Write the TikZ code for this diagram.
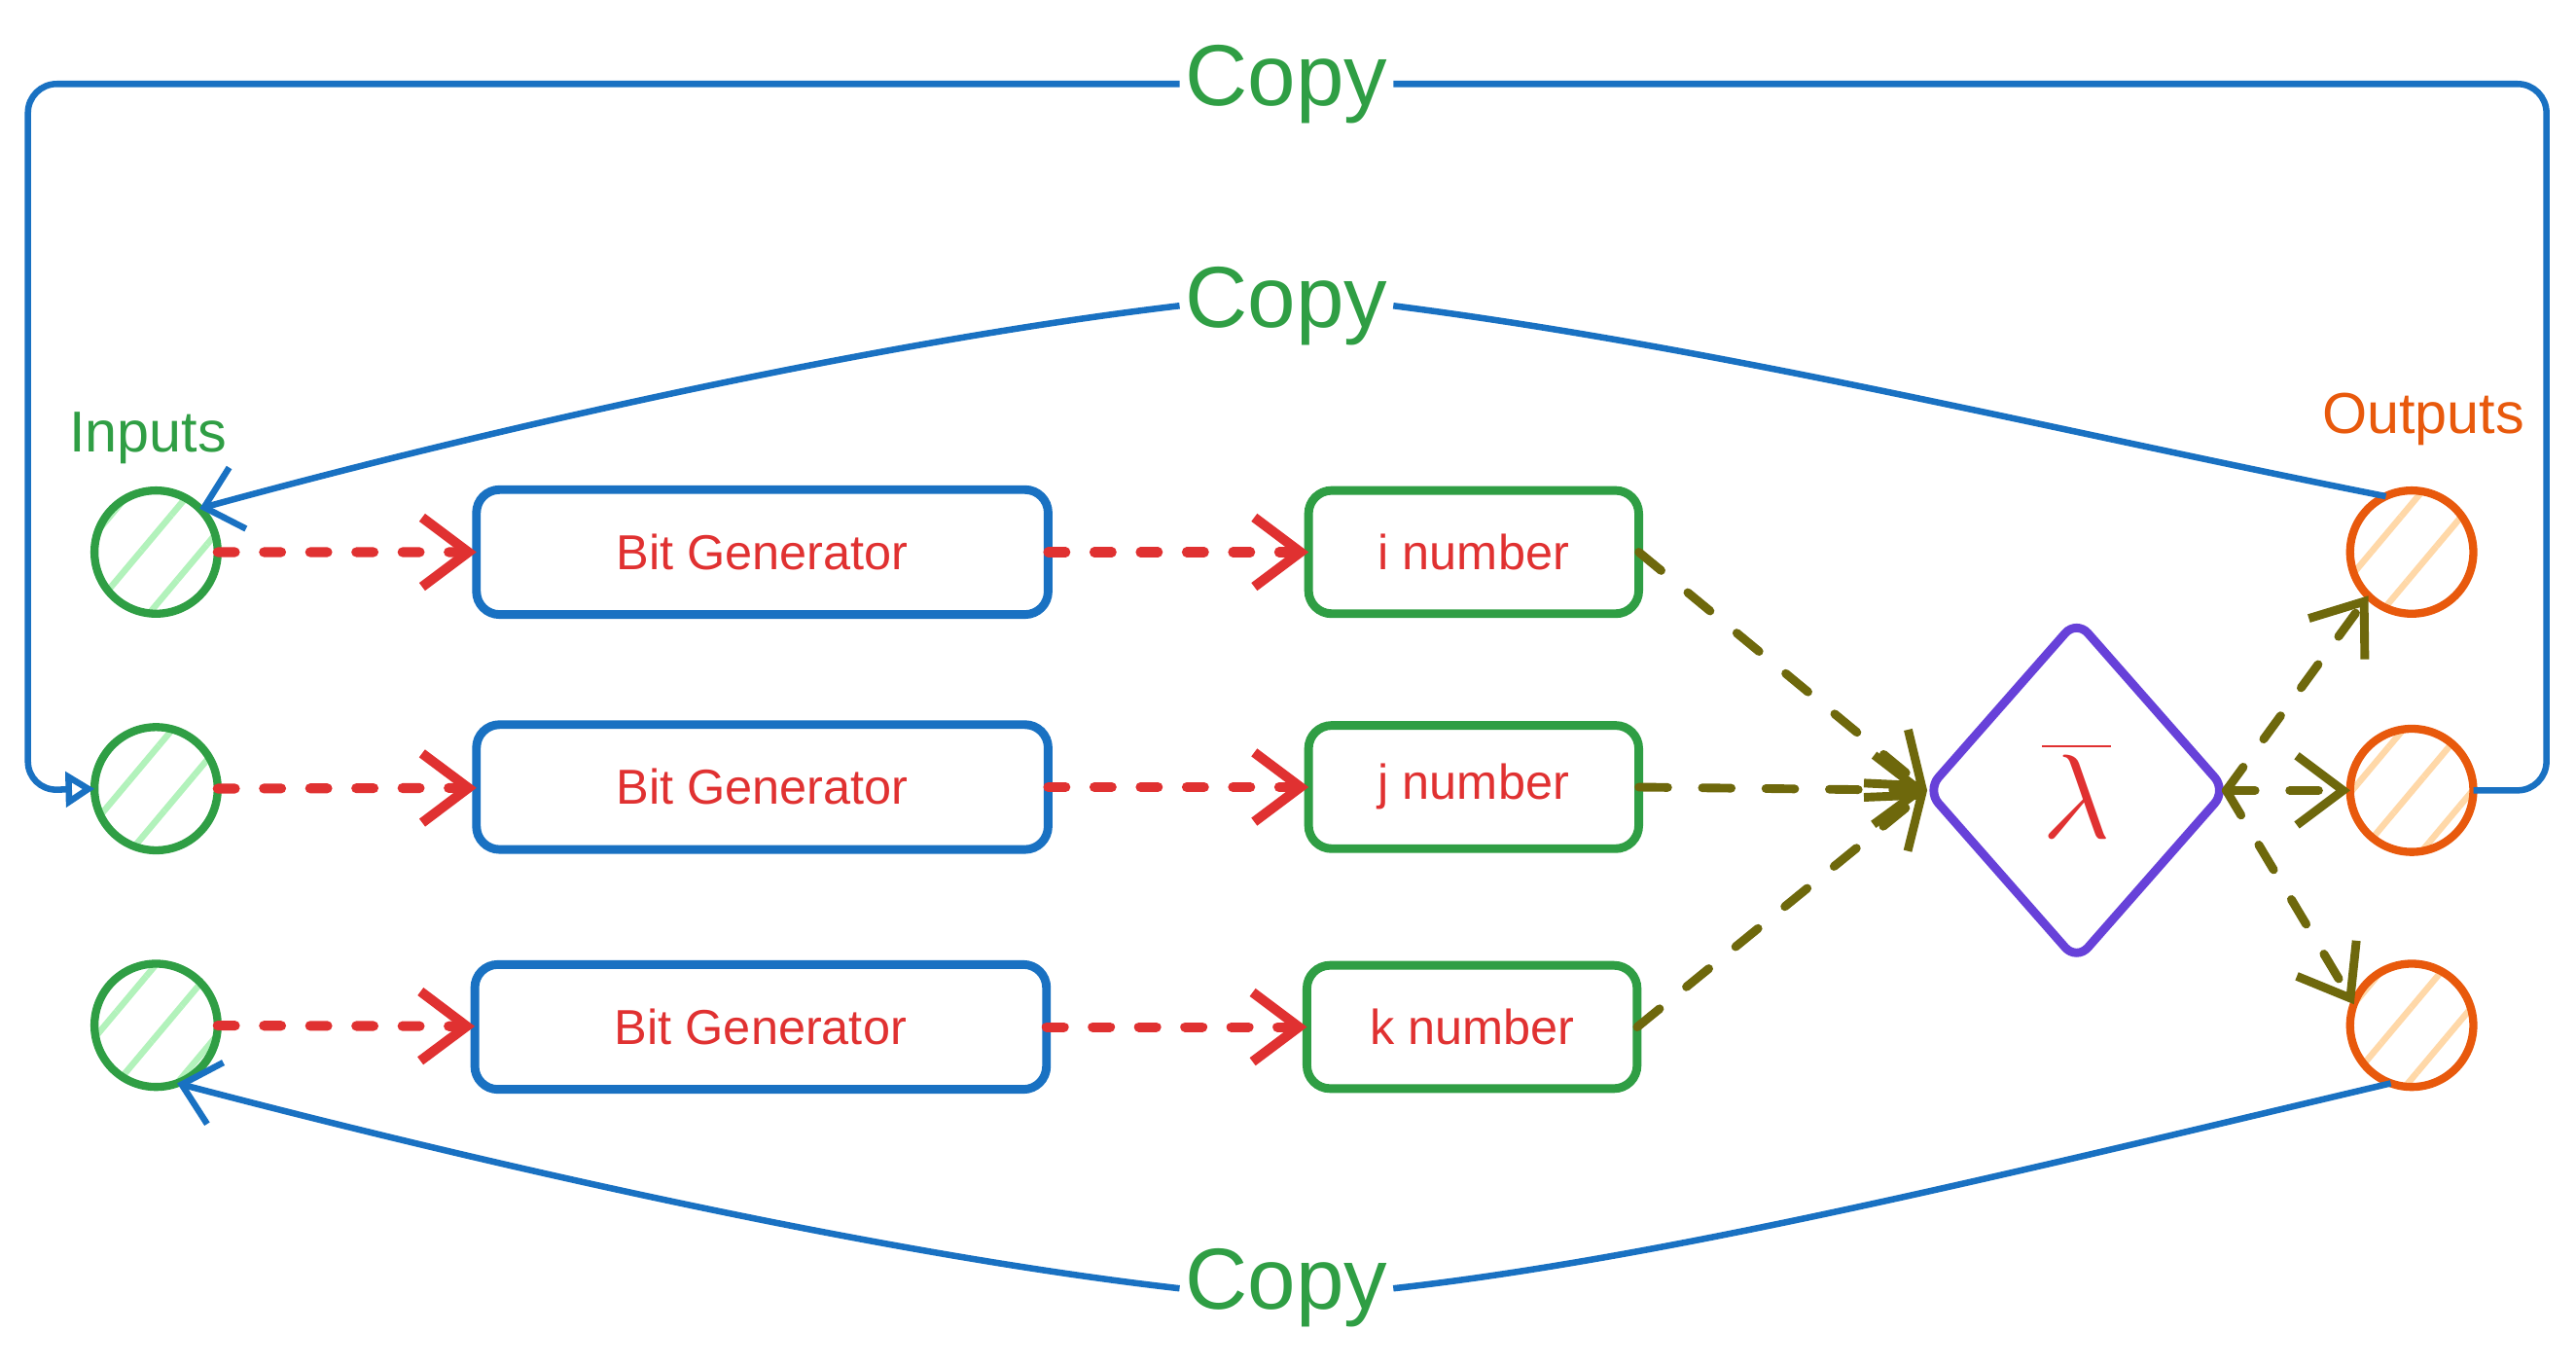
\documentclass[tikz,border=0pt]{standalone}
\usepackage{fontspec}
\setmainfont{Liberation Sans}
\usetikzlibrary{positioning,shapes.geometric,arrows.meta,patterns.meta}
\definecolor{sblue}{HTML}{1971C2}
\definecolor{sgreen}{HTML}{2F9E44}
\definecolor{sred}{HTML}{E03131}
\definecolor{sorange}{HTML}{E8590C}
\definecolor{spurple}{HTML}{6741D9}
\definecolor{drkolive}{RGB}{110,104,12}
\definecolor{lgreen}{HTML}{B2F2BB}
\definecolor{lorange}{HTML}{FFD8A8}
\newcommand{\copyfont}{\fontsize{15}{18}\selectfont}
\newcommand{\lblfont}{\fontsize{10}{12}\selectfont}
\newcommand{\boxfont}{\fontsize{8.5}{10}\selectfont}

\begin{document}
\begin{tikzpicture}[scale=0.1]
\tikzstyle{every node}+=[outer sep=0pt]
\tikzstyle{incirc}=[circle, draw=sgreen, line width=1.4pt, minimum size=0.75cm, pattern={Lines[angle=50,distance=8pt,line width=1.1pt]}, pattern color=lgreen]
\tikzstyle{outcirc}=[circle, draw=sorange, line width=1.4pt, minimum size=0.75cm, pattern={Lines[angle=50,distance=8pt,line width=1.1pt]}, pattern color=lorange]
\tikzstyle{genbox}=[rectangle, rounded corners=4pt, draw=sblue, line width=1.5pt, minimum width=3.48cm, minimum height=0.76cm, text=sred, font=\boxfont]
\tikzstyle{numbox}=[rectangle, rounded corners=4pt, draw=sgreen, line width=1.5pt, minimum width=2.01cm, minimum height=0.75cm, text=sred, font=\boxfont]
\tikzstyle{mixer}=[diamond, rounded corners=3pt, draw=spurple, line width=1.5pt, minimum width=1.82cm, minimum height=2.07cm, inner sep=0pt, text=sred, font=\fontsize{20}{24}\selectfont]
\tikzstyle{copylabel}=[text=sgreen, font=\copyfont, anchor=base, inner sep=1pt]
\tikzstyle{copyline}=[draw=sblue, line width=1.1pt]
\tikzstyle{redarrow}=[draw=sred, line width=1.7pt, dash pattern=on 3pt off 5pt, line cap=round, -{Straight Barb[length=8pt,width=12pt]}]
\tikzstyle{olvarrow}=[draw=drkolive, line width=1.5pt, dash pattern=on 5pt off 6pt, line cap=round, -{Straight Barb[length=8pt,width=12pt]}]
\useasboundingbox (0,0) rectangle (156.8,-83.14);
\node [incirc] (in1) at (9.5,-33.6) {};
\node [incirc] (in2) at (9.5,-48.0) {};
\node [incirc] (in3) at (9.5,-62.4) {};
\node [text=sgreen, font=\lblfont, anchor=base] (inlbl) at (9.0,-27.5) {Inputs};
\node [genbox] (bg1) at (46.4,-33.6) {Bit Generator};
\node [genbox] (bg2) at (46.4,-47.9) {Bit Generator};
\node [genbox] (bg3) at (46.3,-62.5) {Bit Generator};
\node [numbox] (inum) at (89.7,-33.6) {i number};
\node [numbox] (jnum) at (89.7,-47.9) {j number};
\node [numbox] (knum) at (89.6,-62.5) {k number};
\node [mixer] (dia) at (126.4,-48.1) {$\overline{\lambda}$};
\node [outcirc] (out1) at (146.8,-33.6) {};
\node [outcirc] (out2) at (146.8,-48.1) {};
\node [outcirc] (out3) at (146.8,-62.4) {};
\node [text=sorange, font=\lblfont, anchor=base] (outlbl) at (147.5,-26.4) {Outputs};
\node [copylabel] (copytop) at (78.3,-6.4) {Copy};
\node [copylabel] (copymid) at (78.3,-19.9) {Copy};
\node [copylabel] (copybot) at (78.3,-79.7) {Copy};
\draw [redarrow] (in1) -- (bg1);
\draw [redarrow] (in2) -- (bg2);
\draw [redarrow] (in3) -- (bg3);
\draw [redarrow] (bg1.east) -- (inum.west);
\draw [redarrow] (bg2.east) -- (jnum.west);
\draw [redarrow] (bg3.east) -- (knum.west);
\draw [olvarrow] (inum.east) -- (dia.west);
\draw [olvarrow] (jnum.east) -- (dia.west);
\draw [olvarrow] (knum.east) -- (dia.west);
\draw [olvarrow] (dia.east) -- (out1.south west);
\draw [olvarrow] (dia.east) -- (out2.west);
\draw [olvarrow] (dia.east) -- (out3.160);
\draw [copyline, rounded corners=5pt] (out2.east) -- (155,-48.1) |- (copytop.east);
\draw [copyline, rounded corners=5pt, -{Triangle[open,length=5pt,width=6pt]}] (copytop.west) -| (1.7,-48.1) -- (in2.west);
\draw [copyline] (out1.115) .. controls (125,-26.2) and (105,-21.2) .. (copymid.east);
\draw [copyline, -{Straight Barb[length=6pt,width=11pt]}] (copymid.west) .. controls (55,-20.6) and (32,-25.5) .. (in1.north east);
\draw [copyline] (out3.250) .. controls (124,-71) and (102,-76.5) .. (copybot.east);
\draw [copyline, -{Straight Barb[length=6pt,width=11pt]}] (copybot.west) .. controls (55,-76.5) and (32,-71.5) .. (in3.290);
\end{tikzpicture}
\end{document}
